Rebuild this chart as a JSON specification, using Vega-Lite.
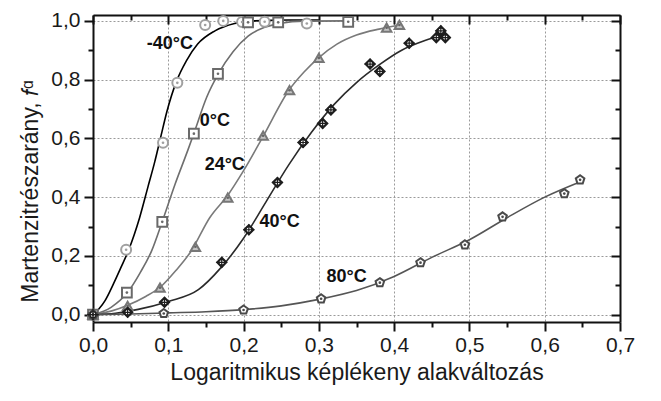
{
  "$schema": "https://vega.github.io/schema/vega-lite/v6.json",
  "width": 527,
  "height": 307,
  "autosize": {"type": "none"},
  "padding": {"left": 93, "top": 15, "right": 41, "bottom": 79},
  "background": "white",
  "config": {
    "view": {"stroke": null},
    "font": "Liberation Sans",
    "axis": {"labelFont": "Liberation Sans", "titleFont": "Liberation Sans", "labelColor": "#1a1a1a", "titleColor": "#1a1a1a", "titleFontWeight": "normal", "tickColor": "#111", "domainColor": "#111", "offset": 0}
  },
  "datasets": {
    "curves": [
      {"series": "-40°C", "x": 0, "y": 0}, {"series": "-40°C", "x": 0.008, "y": 0.02}, {"series": "-40°C", "x": 0.016, "y": 0.048}, {"series": "-40°C", "x": 0.027, "y": 0.104}, {"series": "-40°C", "x": 0.037, "y": 0.16}, {"series": "-40°C", "x": 0.047, "y": 0.218}, {"series": "-40°C", "x": 0.062, "y": 0.331}, {"series": "-40°C", "x": 0.073, "y": 0.435}, {"series": "-40°C", "x": 0.082, "y": 0.52}, {"series": "-40°C", "x": 0.09, "y": 0.605}, {"series": "-40°C", "x": 0.098, "y": 0.69}, {"series": "-40°C", "x": 0.111, "y": 0.795}, {"series": "-40°C", "x": 0.124, "y": 0.864}, {"series": "-40°C", "x": 0.139, "y": 0.921}, {"series": "-40°C", "x": 0.162, "y": 0.966}, {"series": "-40°C", "x": 0.188, "y": 0.991}, {"series": "-40°C", "x": 0.215, "y": 1.0}, {"series": "-40°C", "x": 0.26, "y": 1.003}, {"series": "-40°C", "x": 0.3, "y": 1.003},
      {"series": "0°C", "x": 0, "y": 0}, {"series": "0°C", "x": 0.024, "y": 0.025}, {"series": "0°C", "x": 0.046, "y": 0.076}, {"series": "0°C", "x": 0.062, "y": 0.14}, {"series": "0°C", "x": 0.078, "y": 0.218}, {"series": "0°C", "x": 0.092, "y": 0.317}, {"series": "0°C", "x": 0.109, "y": 0.444}, {"series": "0°C", "x": 0.126, "y": 0.56}, {"series": "0°C", "x": 0.134, "y": 0.617}, {"series": "0°C", "x": 0.151, "y": 0.74}, {"series": "0°C", "x": 0.167, "y": 0.822}, {"series": "0°C", "x": 0.186, "y": 0.895}, {"series": "0°C", "x": 0.206, "y": 0.948}, {"series": "0°C", "x": 0.228, "y": 0.978}, {"series": "0°C", "x": 0.25, "y": 0.992}, {"series": "0°C", "x": 0.28, "y": 0.999}, {"series": "0°C", "x": 0.34, "y": 1.0},
      {"series": "24°C", "x": 0, "y": 0}, {"series": "24°C", "x": 0.024, "y": 0.012}, {"series": "24°C", "x": 0.046, "y": 0.032}, {"series": "24°C", "x": 0.07, "y": 0.062}, {"series": "24°C", "x": 0.09, "y": 0.095}, {"series": "24°C", "x": 0.11, "y": 0.15}, {"series": "24°C", "x": 0.13, "y": 0.215}, {"series": "24°C", "x": 0.155, "y": 0.33}, {"series": "24°C", "x": 0.18, "y": 0.41}, {"series": "24°C", "x": 0.2, "y": 0.49}, {"series": "24°C", "x": 0.226, "y": 0.607}, {"series": "24°C", "x": 0.26, "y": 0.763}, {"series": "24°C", "x": 0.28, "y": 0.825}, {"series": "24°C", "x": 0.3, "y": 0.875}, {"series": "24°C", "x": 0.324, "y": 0.921}, {"series": "24°C", "x": 0.35, "y": 0.952}, {"series": "24°C", "x": 0.38, "y": 0.972}, {"series": "24°C", "x": 0.407, "y": 0.985},
      {"series": "40°C", "x": 0, "y": 0}, {"series": "40°C", "x": 0.03, "y": 0.005}, {"series": "40°C", "x": 0.06, "y": 0.018}, {"series": "40°C", "x": 0.1, "y": 0.045}, {"series": "40°C", "x": 0.14, "y": 0.085}, {"series": "40°C", "x": 0.17, "y": 0.16}, {"series": "40°C", "x": 0.2, "y": 0.26}, {"series": "40°C", "x": 0.23, "y": 0.385}, {"series": "40°C", "x": 0.26, "y": 0.51}, {"series": "40°C", "x": 0.29, "y": 0.62}, {"series": "40°C", "x": 0.32, "y": 0.715}, {"series": "40°C", "x": 0.35, "y": 0.79}, {"series": "40°C", "x": 0.38, "y": 0.85}, {"series": "40°C", "x": 0.41, "y": 0.9}, {"series": "40°C", "x": 0.44, "y": 0.932}, {"series": "40°C", "x": 0.47, "y": 0.955},
      {"series": "80°C", "x": 0, "y": 0}, {"series": "80°C", "x": 0.05, "y": 0.002}, {"series": "80°C", "x": 0.1, "y": 0.006}, {"series": "80°C", "x": 0.15, "y": 0.01}, {"series": "80°C", "x": 0.2, "y": 0.017}, {"series": "80°C", "x": 0.25, "y": 0.03}, {"series": "80°C", "x": 0.3, "y": 0.052}, {"series": "80°C", "x": 0.35, "y": 0.082}, {"series": "80°C", "x": 0.4, "y": 0.13}, {"series": "80°C", "x": 0.45, "y": 0.195}, {"series": "80°C", "x": 0.5, "y": 0.255}, {"series": "80°C", "x": 0.55, "y": 0.33}, {"series": "80°C", "x": 0.6, "y": 0.4}, {"series": "80°C", "x": 0.65, "y": 0.455}
    ],
    "points": [
      {"series": "-40°C", "x": 0, "y": 0}, {"series": "-40°C", "x": 0.044, "y": 0.221}, {"series": "-40°C", "x": 0.093, "y": 0.585}, {"series": "-40°C", "x": 0.112, "y": 0.789}, {"series": "-40°C", "x": 0.149, "y": 0.986}, {"series": "-40°C", "x": 0.173, "y": 1.0}, {"series": "-40°C", "x": 0.198, "y": 0.996}, {"series": "-40°C", "x": 0.228, "y": 0.997}, {"series": "-40°C", "x": 0.284, "y": 0.991},
      {"series": "0°C", "x": 0, "y": 0}, {"series": "0°C", "x": 0.045, "y": 0.075}, {"series": "0°C", "x": 0.092, "y": 0.316}, {"series": "0°C", "x": 0.134, "y": 0.616}, {"series": "0°C", "x": 0.166, "y": 0.82}, {"series": "0°C", "x": 0.206, "y": 0.995}, {"series": "0°C", "x": 0.246, "y": 0.995}, {"series": "0°C", "x": 0.339, "y": 0.997},
      {"series": "24°C", "x": 0, "y": 0}, {"series": "24°C", "x": 0.046, "y": 0.03}, {"series": "24°C", "x": 0.089, "y": 0.092}, {"series": "24°C", "x": 0.136, "y": 0.231}, {"series": "24°C", "x": 0.179, "y": 0.398}, {"series": "24°C", "x": 0.226, "y": 0.609}, {"series": "24°C", "x": 0.261, "y": 0.764}, {"series": "24°C", "x": 0.3, "y": 0.874}, {"series": "24°C", "x": 0.39, "y": 0.977}, {"series": "24°C", "x": 0.407, "y": 0.986},
      {"series": "40°C", "x": 0, "y": 0}, {"series": "40°C", "x": 0.046, "y": 0.008}, {"series": "40°C", "x": 0.095, "y": 0.042}, {"series": "40°C", "x": 0.171, "y": 0.178}, {"series": "40°C", "x": 0.207, "y": 0.289}, {"series": "40°C", "x": 0.245, "y": 0.45}, {"series": "40°C", "x": 0.279, "y": 0.586}, {"series": "40°C", "x": 0.305, "y": 0.651}, {"series": "40°C", "x": 0.316, "y": 0.697}, {"series": "40°C", "x": 0.368, "y": 0.853}, {"series": "40°C", "x": 0.381, "y": 0.828}, {"series": "40°C", "x": 0.42, "y": 0.924}, {"series": "40°C", "x": 0.456, "y": 0.943}, {"series": "40°C", "x": 0.468, "y": 0.943}, {"series": "40°C", "x": 0.462, "y": 0.966},
      {"series": "80°C", "x": 0, "y": 0}, {"series": "80°C", "x": 0.094, "y": 0.004}, {"series": "80°C", "x": 0.2, "y": 0.016}, {"series": "80°C", "x": 0.303, "y": 0.054}, {"series": "80°C", "x": 0.381, "y": 0.109}, {"series": "80°C", "x": 0.435, "y": 0.177}, {"series": "80°C", "x": 0.494, "y": 0.238}, {"series": "80°C", "x": 0.544, "y": 0.333}, {"series": "80°C", "x": 0.626, "y": 0.412}, {"series": "80°C", "x": 0.647, "y": 0.459}
    ],
    "labels": [
      {"text": "-40°C", "x": 0.102, "y": 0.922},
      {"text": "0°C", "x": 0.162, "y": 0.66},
      {"text": "24°C", "x": 0.175, "y": 0.508},
      {"text": "40°C", "x": 0.248, "y": 0.314},
      {"text": "80°C", "x": 0.337, "y": 0.127}
    ]
  },
  "resolve": {"axis": {"x": "independent", "y": "independent"}, "scale": {"fill": "independent"}},
  "layer": [
    {
      "data": {"name": "curves"},
      "mark": {"type": "line", "interpolate": "monotone", "strokeWidth": 1.6, "clip": false},
      "encoding": {
        "x": {"field": "x", "type": "quantitative", "scale": {"domain": [0, 0.7], "nice": false, "zero": false},
          "axis": {"orient": "bottom", "offset": 0, "values": [0, 0.05, 0.1, 0.15, 0.2, 0.25, 0.3, 0.35, 0.4, 0.45, 0.5, 0.55, 0.6, 0.65, 0.7],
            "labelExpr": "abs(datum.value*10 - round(datum.value*10)) < 0.001 ? replace(format(datum.value, '.1f'), '.', ',') : ''",
            "labelFontSize": 21, "labelPadding": 3,
            "tickSize": {"condition": {"test": "abs(datum.value*10 - round(datum.value*10)) < 0.001", "value": 9}, "value": 5},
            "tickWidth": 2, "domainWidth": 2, "grid": true, "gridDash": [2, 2], "gridColor": "#9a9a9a", "gridWidth": 1,
            "gridOpacity": {"condition": {"test": "abs(datum.value*10 - round(datum.value*10)) < 0.001", "value": 1}, "value": 0},
            "labelOverlap": false, "labelBound": false, "labelFlush": false,
            "title": "Logaritmikus képlékeny alakváltozás", "titleFontSize": 23, "titlePadding": 6}},
        "y": {"field": "y", "type": "quantitative", "scale": {"domain": [-0.025, 1.02], "nice": false, "zero": false},
          "axis": {"orient": "left", "offset": 0, "values": [0, 0.1, 0.2, 0.3, 0.4, 0.5, 0.6, 0.7, 0.8, 0.9, 1.0],
            "labelExpr": "abs(datum.value*5 - round(datum.value*5)) < 0.001 ? replace(format(datum.value, '.1f'), '.', ',') : ''",
            "labelFontSize": 21, "labelPadding": 4,
            "tickSize": {"condition": {"test": "abs(datum.value*5 - round(datum.value*5)) < 0.001", "value": 9}, "value": 5},
            "tickWidth": 2, "domainWidth": 2, "grid": true, "gridDash": [2, 2], "gridColor": "#9a9a9a", "gridWidth": 1,
            "gridOpacity": {"condition": {"test": "abs(datum.value*5 - round(datum.value*5)) < 0.001", "value": 1}, "value": 0},
            "labelOverlap": false, "labelBound": false, "labelFlush": false,
            "title": "Martenzitrészarány, 𝑓ᵅ", "titleFontSize": 23, "titlePadding": 8, "titleY": 176}},
        "color": {"field": "series", "type": "nominal", "legend": null, "scale": {"domain": ["-40°C", "0°C", "24°C", "40°C", "80°C"], "range": ["#000000", "#6e6e6e", "#7a7a7a", "#2a2a2a", "#555555"]}},
        "detail": {"field": "series"}
      }
    },
    {
      "data": {"name": "points"},
      "mark": {"type": "point", "filled": true, "strokeWidth": 2, "opacity": 1, "fillOpacity": 1, "clip": false},
      "encoding": {
        "x": {"field": "x", "type": "quantitative", "scale": {"domain": [0, 0.7], "nice": false, "zero": false},
          "axis": {"orient": "top", "offset": 0, "values": [0, 0.05, 0.1, 0.15, 0.2, 0.25, 0.3, 0.35, 0.4, 0.45, 0.5, 0.55, 0.6, 0.65, 0.7], "labels": false,
            "tickSize": {"condition": {"test": "abs(datum.value*10 - round(datum.value*10)) < 0.001", "value": -9}, "value": -5},
            "tickWidth": 2, "domainWidth": 2, "grid": false, "title": null}},
        "y": {"field": "y", "type": "quantitative", "scale": {"domain": [-0.025, 1.02], "nice": false, "zero": false},
          "axis": {"orient": "right", "offset": 0, "values": [0, 0.1, 0.2, 0.3, 0.4, 0.5, 0.6, 0.7, 0.8, 0.9, 1.0], "labels": false,
            "tickSize": {"condition": {"test": "abs(datum.value*5 - round(datum.value*5)) < 0.001", "value": -9}, "value": -5},
            "tickWidth": 2, "domainWidth": 2, "grid": false, "title": null}},
        "shape": {"field": "series", "type": "nominal", "legend": null, "scale": {"domain": ["-40°C", "0°C", "24°C", "40°C", "80°C"], "range": ["circle", "square", "triangle-up", "diamond", "M0,-1L0.951,-0.309L0.588,0.809L-0.588,0.809L-0.951,-0.309Z"]}},
        "size": {"field": "series", "type": "nominal", "legend": null, "scale": {"domain": ["-40°C", "0°C", "24°C", "40°C", "80°C"], "range": [100, 81, 170, 210, 170]}},
        "stroke": {"field": "series", "type": "nominal", "legend": null, "scale": {"domain": ["-40°C", "0°C", "24°C", "40°C", "80°C"], "range": ["#a0a0a0", "#6a6a6a", "#777777", "#1e1e1e", "#4a4a4a"]}},
        "fill": {"field": "series", "type": "nominal", "legend": null, "scale": {"domain": ["-40°C", "0°C", "24°C", "40°C", "80°C"], "range": ["#ffffff", "#ffffff", "#c4c4c4", "#ffffff", "#ffffff"]}}
      }
    },
    {
      "data": {"name": "points"},
      "transform": [{"filter": "datum.series !== '40°C'"}],
      "mark": {"type": "point", "shape": "circle", "filled": true, "size": 7, "opacity": 1, "clip": false},
      "encoding": {
        "x": {"field": "x", "type": "quantitative", "axis": null},
        "y": {"field": "y", "type": "quantitative", "axis": null},
        "fill": {"field": "series", "type": "nominal", "legend": null, "scale": {"domain": ["-40°C", "0°C", "24°C", "40°C", "80°C"], "range": ["#a0a0a0", "#6a6a6a", "#666666", "#1e1e1e", "#4a4a4a"]}}
      }
    },
    {
      "data": {"name": "points"},
      "transform": [{"filter": "datum.series === '40°C'"}],
      "mark": {"type": "point", "shape": "M-0.75,0H0.75M0,-0.75V0.75M0.42,0A0.42,0.42 0 1 1 -0.42,0A0.42,0.42 0 1 1 0.42,0", "filled": false, "size": 210, "stroke": "#1e1e1e", "strokeWidth": 1.2, "opacity": 1, "clip": false},
      "encoding": {
        "x": {"field": "x", "type": "quantitative", "axis": null},
        "y": {"field": "y", "type": "quantitative", "axis": null}
      }
    },
    {
      "data": {"name": "labels"},
      "mark": {"type": "text", "font": "Liberation Sans", "fontWeight": "bold", "fontSize": 18, "align": "center", "baseline": "middle", "color": "#111"},
      "encoding": {
        "x": {"field": "x", "type": "quantitative", "axis": null},
        "y": {"field": "y", "type": "quantitative", "axis": null},
        "text": {"field": "text"}
      }
    }
  ]
}
